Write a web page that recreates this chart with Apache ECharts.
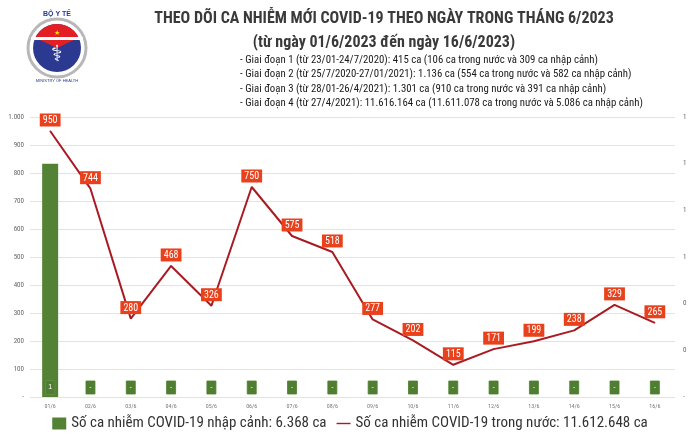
<!DOCTYPE html>
<html>
<head>
<meta charset="utf-8">
<script src="https://cdn.jsdelivr.net/npm/echarts@6/dist/echarts.min.js"></script>
<style>
html,body{margin:0;padding:0;background:#fff;}
#c{width:700px;height:439px;}
</style>
</head>
<body>
<div id="c"></div>
<script>
var categories = ['01/6','02/6','03/6','04/6','05/6','06/6','07/6','08/6','09/6','10/6','11/6','12/6','13/6','14/6','15/6','16/6'];
var domesticCases = [950,744,280,468,326,750,575,518,277,202,115,171,199,238,329,265];
var importedCases = [1,0,0,0,0,0,0,0,0,0,0,0,0,0,0,0];
var leftTicks = {min:0, max:1000, interval:100};
var rightTicks = {min:0, max:1.2, interval:0.2};
var titleText = 'THEO DÕI CA NHIỄM MỚI COVID-19 THEO NGÀY TRONG THÁNG 6/2023';
var subtitleText = '(từ ngày 01/6/2023 đến ngày 16/6/2023)';
var notes = [
  '- Giai đoạn 1 (từ 23/01-24/7/2020): 415 ca (106 ca trong nước và 309 ca nhập cảnh)',
  '- Giai đoạn 2 (từ 25/7/2020-27/01/2021): 1.136 ca (554 ca trong nước và 582 ca nhập cảnh)',
  '- Giai đoạn 3 (từ 28/01-26/4/2021): 1.301 ca (910 ca trong nước và 391 ca nhập cảnh)',
  '- Giai đoạn 4 (từ 27/4/2021): 11.616.164 ca (11.611.078 ca trong nước và 5.086 ca nhập cảnh)'
];
var barName = 'Số ca nhiễm COVID-19 nhập cảnh: 6.368 ca';
var lineName = 'Số ca nhiễm COVID-19 trong nước: 11.612.648 ca';

var FONT = "'Liberation Sans Narrow', 'Roboto Condensed', 'Open Sans', sans-serif";
var chart = echarts.init(document.getElementById('c'), null, {renderer:'canvas'});

var graphics = [
  {type:'circle', shape:{cx:57, cy:48, r:29}, style:{fill:'#fff', stroke:'#b8b8b8', lineWidth:3}},
  {type:'circle', shape:{cx:57, cy:48, r:24}, style:{fill:'#2b3990'}},
  {type:'sector', shape:{cx:57, cy:48, r:24, r0:0, startAngle:-Math.PI*0.86, endAngle:-Math.PI*0.14}, style:{fill:'#e31e24'}},
  {type:'rect', shape:{x:31, y:37, width:52, height:3}, style:{fill:'#fff'}},
  {type:'text', style:{x:57, y:33, text:'★', fill:'#ffde00', font:'7px sans-serif', align:'center', verticalAlign:'middle'}},
  {type:'text', style:{x:57, y:14, text:'BỘ Y TẾ', fill:'#2b3990', font:'bold 7px sans-serif', align:'center', verticalAlign:'middle'}},
  {type:'text', style:{x:57, y:55, text:'⚕', fill:'#fff', font:'22px DejaVu Sans', align:'center', verticalAlign:'middle'}},
  {type:'text', style:{x:57, y:81, text:'MINISTRY OF HEALTH', fill:'#2b3990', font:'4px sans-serif', align:'center', verticalAlign:'middle'}},
  {type:'text', style:{x:384, y:19, text:titleText, fill:'#3a3a3a', font:'bold 16px ' + FONT, align:'center', verticalAlign:'middle'}},
  {type:'text', style:{x:384, y:43, text:subtitleText, fill:'#3a3a3a', font:'bold 16px ' + FONT, align:'center', verticalAlign:'middle'}}
];
notes.forEach(function(t, i){
  graphics.push({type:'text', style:{x:240, y:60 + i*14.5, text:t, fill:'#1a1a1a', font:'10.8px ' + FONT, align:'left', verticalAlign:'middle'}});
});

chart.setOption({
  backgroundColor:'#fff',
  animation:false,
  graphic: graphics,
  grid:{left:30, right:25, top:117, bottom:42, containLabel:false},
  legend:{
    bottom:3, left:'center', itemGap:10, itemWidth:14, itemHeight:12, symbolKeepAspect:true,
    textStyle:{fontFamily:FONT, fontSize:15, color:'#333'},
    data:[{name:barName, icon:'rect'}, {name:lineName, icon:'path://M0,0 L22,0 L22,2.2 L0,2.2 Z'}]
  },
  xAxis:{
    type:'category', data:categories,
    axisLine:{show:false}, axisTick:{show:false},
    axisLabel:{fontSize:6, color:'#777', margin:6, fontFamily:FONT}
  },
  yAxis:[
    {type:'value', min:leftTicks.min, max:leftTicks.max, interval:leftTicks.interval,
     axisLine:{show:false}, axisTick:{show:false},
     splitLine:{lineStyle:{color:'#e3e3e3', width:1}},
     axisLabel:{fontSize:7, color:'#666', margin:6, fontFamily:FONT,
       formatter:function(v){ if(v===0) return '-'; return v>=1000 ? String(v).replace(/\B(?=(\d{3})+(?!\d))/g,'.') : String(v); }}
    },
    {type:'value', min:rightTicks.min, max:rightTicks.max, interval:rightTicks.interval,
     axisLine:{show:false}, axisTick:{show:false}, splitLine:{show:false},
     axisLabel:{fontSize:7, color:'#666', margin:8, fontFamily:FONT,
       formatter:function(v){ if(v===0) return '-'; return String(Math.round(v)); }}
    }
  ],
  series:[
    {
      name:barName, type:'bar', yAxisIndex:1, data:importedCases, barWidth:16,
      itemStyle:{color:'#548235'},
      label:{show:true, position:'insideBottom', distance:3, color:'#fff', fontSize:7,
        backgroundColor:'#4f7d32', borderColor:'#6d9a4f', borderWidth:0.5, padding:[3,3,3,3], width:3, align:'center',
        formatter:function(p){ return p.value===0 ? '-' : String(p.value); }}
    },
    {
      name:lineName, type:'line', yAxisIndex:0, data:domesticCases,
      symbol:'circle', symbolSize:1, showSymbol:true,
      lineStyle:{color:'#a91b22', width:2},
      itemStyle:{color:'#a91b22'},
      label:{show:true, position:'top', distance:4, color:'#fff', fontSize:10, fontFamily:FONT,
        backgroundColor:'#e8411c', padding:[2,3,1,3]}
    }
  ]
});
</script>
</body>
</html>
